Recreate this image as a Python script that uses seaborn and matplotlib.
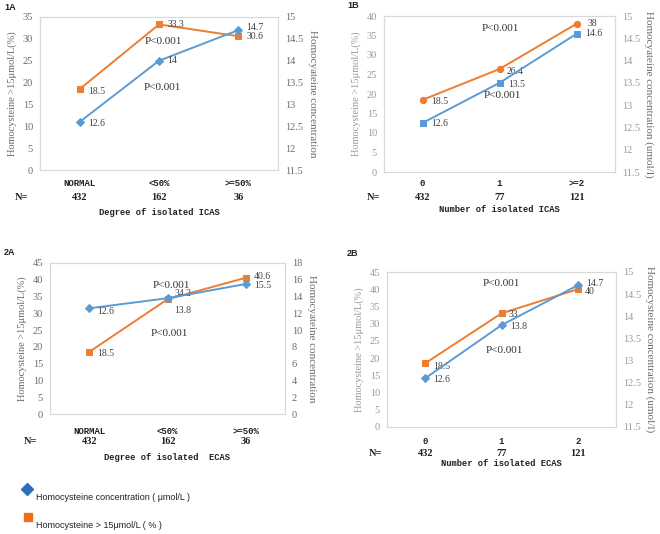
import matplotlib
matplotlib.use("Agg")
import matplotlib.pyplot as plt
import seaborn as sns
import pandas as pd
import numpy as np
from matplotlib.lines import Line2D

sns.set_theme(style="white")
plt.rcParams['font.family'] = ['Liberation Serif', 'DejaVu Serif']

# ---------------- data ----------------
cats_1A = ["NORMAL", "<50%", ">=50%"]
n_1A = ["432", "162", "36"]
pct_1A = [18.5, 33.3, 30.6]
conc_1A = [12.6, 14.0, 14.7]

cats_1B = ["0", "1", ">=2"]
n_1B = ["432", "77", "121"]
pct_1B = [18.5, 26.4, 38.0]
conc_1B = [12.6, 13.5, 14.6]

cats_2A = ["NORMAL", "<50%", ">=50%"]
n_2A = ["432", "162", "36"]
pct_2A = [18.5, 34.2, 40.6]
conc_2A = [12.6, 13.8, 15.5]

cats_2B = ["0", "1", "2"]
n_2B = ["432", "77", "121"]
pct_2B = [18.5, 33.0, 40.0]
conc_2B = [12.6, 13.8, 14.7]

ORANGE = "#ED7D31"
BLUE = "#5B9BD5"
FRAME = "#D9D9D9"

fig = plt.figure(figsize=(6.6, 5.34), dpi=100)
W, H = 660, 534


def px_axes(l, t, r, b):
    return fig.add_axes([l / W, 1 - b / H, (r - l) / W, (b - t) / H])


def fmt(v):
    return f"{v:g}"


panels = [
    dict(name="1A", box=(40, 17, 278, 170), cats=cats_1A, n=n_1A, pct=pct_1A, conc=conc_1A,
         lylim=(0, 35), lstep=5, rylim=(11.5, 15), rstep=0.5,
         pm="s", cm="D", pms=5, cms=4,
         rlabel="Homocyateine concentration", xlabel="Degree of isolated ICAS",
         tickcol="#6b6b6b",
         p1=(0.517, 0.843), p2=(0.513, 0.536),
         pofs=[(6, -2), (6, 0), (6, 0)], cofs=[(6, -1), (6, 0), (6, 2)],
         catrow=183, nrow=198, xlrow=212, nx=21, lblx=4, lbly=7),
    dict(name="1B", box=(384, 16, 615, 172), cats=cats_1B, n=n_1B, pct=pct_1B, conc=conc_1B,
         lylim=(0, 40), lstep=5, rylim=(11.5, 15), rstep=0.5,
         pm="o", cm="s", pms=4.5, cms=5,
         rlabel="Homocyateine concentration (umol/l)", xlabel="Number of isolated ICAS",
         tickcol="#9a9a9a",
         p1=(0.505, 0.917), p2=(0.514, 0.489),
         pofs=[(6, -1.5), (5, -1.5), (8, 0.5)], cofs=[(6, -0.5), (6, -1), (6, 0)],
         catrow=183, nrow=197, xlrow=209, nx=373, lblx=347, lbly=6),
    dict(name="2A", box=(50, 263, 285, 414), cats=cats_2A, n=n_2A, pct=pct_2A, conc=conc_2A,
         lylim=(0, 45), lstep=5, rylim=(0, 18), rstep=2,
         pm="s", cm="D", pms=5, cms=4,
         rlabel="Homocyateine concentration", xlabel="Degree of isolated  ECAS",
         tickcol="#6b6b6b",
         p1=(0.515, 0.852), p2=(0.508, 0.534),
         pofs=[(6, -1), (5, 4), (6, 1)], cofs=[(6, -2), (5, -9), (6, -1)],
         catrow=431, nrow=442, xlrow=457, nx=30, lblx=4, lbly=253),
    dict(name="2B", box=(387, 272, 616, 427), cats=cats_2B, n=n_2B, pct=pct_2B, conc=conc_2B,
         lylim=(0, 45), lstep=5, rylim=(11.5, 15), rstep=0.5,
         pm="s", cm="D", pms=5, cms=4,
         rlabel="Homocysteine concentration (umol/l)", xlabel="Number of isolated ECAS",
         tickcol="#9a9a9a",
         p1=(0.50, 0.923), p2=(0.511, 0.492),
         pofs=[(6, -2), (5, -1), (5, -2)], cofs=[(6, -1), (6, -1), (6, 1.5)],
         catrow=442, nrow=453, xlrow=464, nx=375, lblx=347, lbly=254),
]

for p in panels:
    l, t, r, b = p["box"]
    ax = px_axes(l, t, r, b)
    ax2 = ax.twinx()
    idx = list(range(len(p["cats"])))
    df = pd.DataFrame({"pos": idx, "cat": p["cats"], "pct": p["pct"], "conc": p["conc"]})

    sns.lineplot(data=df, x="pos", y="pct", ax=ax, color=ORANGE, marker=p["pm"],
                 markersize=p["pms"], markeredgecolor=ORANGE, linewidth=1.4, sort=False)
    sns.lineplot(data=df, x="pos", y="conc", ax=ax2, color=BLUE, marker=p["cm"],
                 markersize=p["cms"], markeredgecolor=BLUE, linewidth=1.4, sort=False)

    ax.set_xlim(-0.5, len(idx) - 0.5)
    ax.set_ylim(*p["lylim"])
    ax2.set_ylim(*p["rylim"])
    lt = np.arange(p["lylim"][0], p["lylim"][1] + 1e-9, p["lstep"])
    ax.set_yticks(lt)
    ax.set_yticklabels([fmt(v) for v in lt])
    rt = np.arange(p["rylim"][0], p["rylim"][1] + 1e-9, p["rstep"])
    ax2.set_yticks(rt)
    ax2.set_yticklabels([fmt(v) for v in rt])
    ax.set_xticks(idx)
    ax.set_xticklabels([])
    for a in (ax, ax2):
        a.tick_params(axis="both", length=0, labelsize=7.5, colors=p["tickcol"], pad=5)
        for s in a.spines.values():
            s.set_color(FRAME)
            s.set_linewidth(0.8)
        a.set_xlabel("")
        a.set_ylabel("")
        a.grid(False)
    ax.set_ylabel("Homocysteine >15μmol/L(%)", fontsize=7.5, color=p["tickcol"], labelpad=4)
    ax2.set_ylabel(p["rlabel"], fontsize=8, color="#6b6b6b", rotation=270, labelpad=10)

    # data labels
    for i, v in enumerate(p["pct"]):
        ax.annotate(fmt(v), (i, v), xytext=p["pofs"][i], textcoords="offset points",
                    ha="left", va="center", fontsize=7, color="#404040")
    for i, v in enumerate(p["conc"]):
        ax2.annotate(fmt(v), (i, v), xytext=p["cofs"][i], textcoords="offset points",
                     ha="left", va="center", fontsize=7, color="#404040")

    ax2.text(*p["p1"], "P<0.001", transform=ax.transAxes, ha="center", va="center",
             fontsize=8, color="#333333")
    ax2.text(*p["p2"], "P<0.001", transform=ax.transAxes, ha="center", va="center",
             fontsize=8, color="#333333")

    # category labels, N row, x label
    for i, (c, n) in enumerate(zip(p["cats"], p["n"])):
        xf = ax.transData.transform((i, 0))[0]
        fig.text(xf / W, 1 - p["catrow"] / H, c, ha="center", va="center",
                 fontsize=6.5, family="Liberation Mono", color="#222222", weight="bold")
        fig.text(xf / W, 1 - p["nrow"] / H, n, ha="center", va="center",
                 fontsize=7.5, color="#222222", weight="bold")
    fig.text(p["nx"] / W, 1 - p["nrow"] / H, "N=", ha="center", va="center",
             fontsize=7.5, color="#222222", weight="bold")
    fig.text((l + r) / 2 / W, 1 - p["xlrow"] / H, p["xlabel"], ha="center", va="center",
             fontsize=6.3, family="Liberation Mono", color="#222222", weight="bold")
    fig.text(p["lblx"] / W, 1 - p["lbly"] / H, p["name"], ha="left", va="center",
             fontsize=6.5, family="Liberation Sans", weight="bold", color="#222222")

# legend
fig.add_artist(Line2D([27 / W], [1 - 489 / H], marker="D", color="#2F6EBA", markersize=6,
                      linestyle="none", transform=fig.transFigure))
fig.add_artist(Line2D([28 / W], [1 - 517 / H], marker="s", color="#F26B1D", markersize=6,
                      linestyle="none", transform=fig.transFigure))
fig.text(36 / W, 1 - 497 / H, "Homocysteine concentration ( μmol/L )", ha="left", va="center",
         fontsize=6.5, family="Liberation Sans", color="#222222")
fig.text(36 / W, 1 - 526 / H, "Homocysteine > 15μmol/L ( % )", ha="left", va="center",
         fontsize=6.5, family="Liberation Sans", color="#222222")

fig.savefig("out.png", dpi=100)
